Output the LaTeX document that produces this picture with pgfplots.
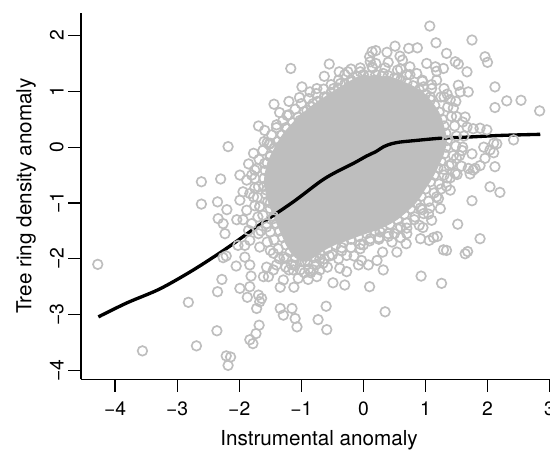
\documentclass[border=0pt]{standalone}
\usepackage{fontspec}
\setmainfont{TeX Gyre Heros}
\usepackage{pgfplots}
\usepackage{pgfplotstable}
\pgfplotsset{compat=1.18}
\definecolor{ptgray}{HTML}{BEBEBE}

% outline of the solid core of the cloud (points overlap completely inside it)
\pgfplotstableread{
x y
-0.2 1.2
-0.1 1.26
0.0 1.3
0.1 1.28
0.2 1.3
0.3 1.27
0.4 1.28
0.5 1.24
0.6 1.2
0.7 1.15
0.8 1.1
0.9 1.03
1.0 0.95
1.08 0.85
1.15 0.75
1.22 0.63
1.27 0.5
1.3 0.38
1.33 0.25
1.35 0.12
1.33 0.0
1.3 -0.12
1.25 -0.25
1.2 -0.37
1.14 -0.5
1.08 -0.62
1.0 -0.75
0.93 -0.88
0.85 -1.0
0.76 -1.1
0.66 -1.2
0.55 -1.3
0.43 -1.38
0.3 -1.45
0.18 -1.5
0.05 -1.55
-0.08 -1.6
-0.2 -1.65
-0.32 -1.7
-0.45 -1.75
-0.58 -1.82
-0.7 -1.9
-0.8 -1.98
-0.9 -2.05
-1.0 -2.05
-1.1 -1.98
-1.18 -1.88
-1.25 -1.75
-1.3 -1.62
-1.35 -1.5
-1.4 -1.37
-1.45 -1.24
-1.5 -1.1
-1.54 -0.97
-1.57 -0.84
-1.6 -0.7
-1.6 -0.56
-1.58 -0.42
-1.55 -0.28
-1.5 -0.15
-1.44 -0.02
-1.38 0.1
-1.31 0.22
-1.23 0.33
-1.14 0.44
-1.05 0.54
-0.95 0.64
-0.85 0.73
-0.74 0.82
-0.63 0.9
-0.52 0.98
-0.41 1.06
-0.3 1.13
}\coretable

\begin{document}
\begin{tikzpicture}
\begin{axis}[
  at={(0,0)}, anchor=south west,
  scale only axis, width=357pt, height=275pt,
  xmin=-4.55, xmax=3.12, ymin=-4.16, ymax=2.41,
  axis x line*=bottom, axis y line*=left,
  axis line style={line width=1pt, black},
  tick align=outside, major tick length=9.4pt,
  tick style={line width=1pt, black},
  xtick={-4,-3,-2,-1,0,1,2,3}, ytick={-4,-3,-2,-1,0,1,2},
  xticklabels={−4,−3,−2,−1,0,1,2,3},
  yticklabels={−4,−3,−2,−1,0,1,2},
  ticklabel style={font=\fontsize{14.5}{17}\selectfont},
  xticklabel style={anchor=north, inner sep=0pt, yshift=-7pt},
  yticklabel style={xshift=-3.4pt, rotate=90, anchor=south, inner sep=0pt},
  ptring/.style={only marks, mark=o, mark size=3.6pt, color=ptgray, line width=1.25pt},
]
\addplot[draw=none, fill=ptgray] table {\coretable};
\addplot[ptring] table {\coretable};
% points around the core
\addplot[ptring] coordinates {
(-0.25,1.35) (-0.05,1.42) (0.15,1.42) (0.35,1.42) (0.55,1.38) (0.75,1.3)
(0.95,1.18) (1.1,1.05) (1.25,0.9) (1.36,0.72) (1.42,0.55) (1.47,0.38) (1.5,0.2)
(1.49,0.02) (1.45,-0.15) (1.38,-0.33) (1.3,-0.5) (1.22,-0.66) (1.14,-0.82)
(1.05,-0.97) (0.95,-1.12) (0.83,-1.25) (0.7,-1.36) (0.55,-1.46) (0.4,-1.55)
(0.25,-1.62) (0.1,-1.68) (-0.05,-1.74) (-0.2,-1.8) (-0.35,-1.86) (-0.5,-1.93)
(-0.63,-2.0) (-0.76,-2.1) (-0.88,-2.18) (-1.02,-2.2) (-1.16,-2.1) (-1.28,-1.97)
(-1.37,-1.82) (-1.44,-1.66) (-1.5,-1.52) (-1.56,-1.37) (-1.62,-1.22) (-1.67,-1.06)
(-1.71,-0.9) (-1.75,-0.73) (-1.75,-0.56) (-1.72,-0.38) (-1.68,-0.22) (-1.62,-0.06)
(-1.55,0.08) (-1.48,0.22) (-1.4,0.35) (-1.3,0.47) (-1.2,0.58) (-1.1,0.68)
(-1.0,0.78) (-0.88,0.87) (-0.76,0.96) (-0.64,1.04) (-0.52,1.12) (-0.4,1.2)
};
% individual points
\addplot[ptring] coordinates {
(-4.28,-2.10) (-3.56,-3.65) (-2.82,-2.78) (-2.69,-3.56) (-2.61,-0.62) (-2.61,-1.02)
(-2.35,-0.98) (-2.20,-1.12) (-2.34,-1.28) (-2.26,-1.37) (-2.23,-1.55) (-2.04,-1.30)
(-1.94,-1.30) (-1.85,-1.49) (-2.02,-1.76) (-2.26,-1.98) (-2.21,-1.95) (-1.91,-1.97)
(-2.05,-2.13) (-1.83,-2.11) (-2.28,-2.37) (-2.35,-2.59) (-1.99,-2.53) (-1.83,-2.50)
(-1.87,-2.69) (-1.69,-2.65) (-1.67,-2.77) (-1.72,-2.89) (-1.64,-2.71) (-2.36,-3.29)
(-1.68,-3.19) (-1.73,-3.34) (-1.83,-3.45) (-1.78,-3.52) (-2.21,-3.74) (-2.14,-3.76)
(-2.18,-3.91) (-1.53,-2.32) (-1.40,-2.11) (-1.61,-2.32) (-1.50,-1.85) (-1.67,-1.79)
(-1.83,-1.67) (-1.69,-1.55) (-1.56,-1.43) (-1.45,-1.28) (-1.80,-1.37) (-1.88,-1.13)
(-1.67,-1.07) (-1.50,-1.00) (-1.99,-0.95) (-1.77,-0.89) (-1.91,-1.76) (-1.81,-2.31)
(-1.56,-2.15)
(-2.30,-0.57) (-1.99,-0.50) (-1.88,-0.59) (-1.94,-0.80) (-1.75,-0.41) (-1.59,-0.29)
(-1.50,-0.17) (-1.34,-0.23) (-1.69,-0.71) (-1.40,-0.47) (-1.29,-0.35) (-1.83,-0.83)
(-1.56,-0.77) (-1.45,-0.65) (-1.18,-0.11) (-1.07,0.01) (-1.13,0.25) (-0.97,0.30)
(-0.86,0.48) (-0.81,0.78) (-2.18,0.01) (-1.77,-0.11) (-1.50,0.07) (-1.34,0.01)
(-1.21,0.18) (-1.02,0.48) (-0.91,0.66) (-1.23,0.57) (-1.25,0.35) (-1.69,0.38)
(-1.59,0.30) (-1.52,0.05) (-1.17,1.41) (-0.99,1.08) (-1.03,0.89) (-1.44,0.77)
(-0.86,0.99)
(1.07,2.17) (1.17,1.87) (0.51,1.81) (0.73,1.77) (0.87,1.78) (0.14,1.71) (0.20,1.73)
(0.38,1.70) (0.59,1.63) (0.63,1.56) (-0.55,1.49) (-0.39,1.35) (-0.63,1.27) (-0.05,1.35)
(0.11,1.53) (0.14,1.44) (0.75,1.44) (0.86,1.32) (1.02,1.50) (1.16,1.44) (1.18,1.20)
(-0.19,1.17) (-0.48,1.05) (-0.59,0.90) (0.97,1.08) (1.08,0.90) (0.32,1.32) (0.54,1.23)
(-0.37,1.14) (-0.65,0.78) (0.10,1.62)
(1.75,1.92) (1.96,1.62) (2.00,1.52) (1.67,1.35) (1.48,1.53) (1.53,1.49) (1.34,1.68)
(2.12,1.08) (2.12,0.71) (2.31,0.83) (2.54,0.84) (2.84,0.65) (1.53,1.11) (1.69,0.99)
(1.56,0.99) (1.35,0.95) (1.49,0.82) (1.64,0.54) (1.67,0.36) (1.77,0.33) (1.88,0.34)
(1.99,0.31) (2.10,0.07) (2.42,0.13) (2.15,0.06) (2.04,-0.05) (2.12,-0.35) (1.88,-0.33)
(1.77,-0.41) (1.72,-0.48) (2.04,-0.71) (2.20,-0.81) (1.40,-0.77) (1.48,-0.47) (1.59,-0.06)
(1.75,-0.12) (1.94,0.00) (1.29,1.41) (1.18,1.36)
(0.35,-2.95) (-0.60,-2.85) (-0.59,-3.27) (-0.73,-3.09) (-1.07,-3.22) (-1.10,-3.07)
(-1.15,-2.89) (-1.29,-3.01) (-1.34,-2.89) (-1.12,-2.51) (-1.34,-2.51) (-0.89,-2.37)
(-0.75,-2.32) (-0.49,-2.43) (-0.30,-2.47) (0.10,-2.50) (-0.38,-2.17) (-0.27,-2.23)
(-0.08,-2.11) (-0.03,-2.03) (0.08,-2.11) (0.22,-2.03) (0.32,-2.20) (0.31,-1.88)
(0.46,-1.70) (0.54,-1.88) (0.11,-1.64) (0.27,-1.52) (-0.27,-1.94) (-0.05,-1.82)
(-1.13,-2.20) (-1.29,-2.38) (-1.24,-1.99) (-1.10,-2.12) (-0.94,-2.05) (-0.81,-2.20)
(-0.65,-2.08) (-0.58,-2.15)
(1.75,-0.96) (1.52,-1.38) (1.88,-1.64) (1.64,-1.91) (1.68,-1.87) (1.34,-1.85)
(1.29,-1.84) (1.26,-2.44) (0.93,-2.31) (1.06,-1.67) (1.13,-1.62) (1.19,-1.60)
(0.96,-1.44) (1.10,-1.31) (1.24,-1.10) (0.97,-1.19) (1.21,-0.92) (1.34,-0.70)
(1.80,-0.38) (1.69,-0.38) (1.96,-0.20) (2.10,-0.10) (1.58,-0.34) (1.40,-0.55)
(1.51,-0.49) (1.18,-0.89) (1.07,-1.09) (0.69,-1.73) (0.70,-1.45) (0.60,-1.62)
(0.60,-1.43) (0.92,-1.64) (0.92,-1.09)
(0.95,1.20) (1.10,1.12) (1.30,1.05) (1.40,0.85) (1.30,0.90) (1.45,0.70) (1.50,0.55)
(1.60,0.45) (1.62,0.20) (1.60,0.00) (1.55,-0.15) (1.42,-0.30) (1.50,-0.20)
(1.30,-0.40) (1.35,-0.55) (1.25,-0.75) (1.05,-1.20) (0.82,-1.30) (0.90,-1.40)
(0.70,-1.55) (0.50,-1.55) (0.40,-1.60) (0.25,-1.65) (0.00,-1.75) (-0.15,-1.95)
(-0.35,-1.80) (-0.55,-1.95) (-0.70,-2.00) (-0.40,-2.00) (-0.95,-2.25) (-1.05,-2.35)
(-0.85,-2.25) (-0.70,-2.20) (-1.20,-2.20) (-1.35,-2.00) (-1.45,-1.90) (-1.55,-1.70)
(-1.65,-1.50) (-1.70,-1.25) (-1.75,-1.05) (-1.45,-2.20) (-1.25,-2.15) (-1.80,-0.50)
(-1.85,-0.30) (-1.60,0.10) (-1.40,0.40) (-1.35,0.62) (-1.20,0.82) (-0.75,1.05)
(-0.30,1.30) (-0.20,1.40) (0.20,1.50) (0.40,1.52) (0.60,1.40) (0.70,1.30)
};
% smooth fit
\addplot[black, line width=2.5pt, smooth] coordinates {
(-4.27,-3.04) (-3.81,-2.79) (-3.28,-2.54) (-2.74,-2.20) (-2.20,-1.81) (-1.67,-1.39)
(-1.13,-0.98) (-0.70,-0.62) (-0.48,-0.47) (-0.16,-0.29) (0.05,-0.16) (0.20,-0.08)
(0.33,0.01) (0.45,0.06) (0.58,0.09) (0.80,0.115) (1.24,0.16) (1.67,0.18) (2.20,0.21)
(2.85,0.23)};
\end{axis}
\node[anchor=north, inner sep=0pt, font=\fontsize{15.5}{18}\selectfont]
  at (178.5pt,-38pt) {Instrumental anomaly};
\node[rotate=90, anchor=center, inner sep=0pt, font=\fontsize{15.5}{18}\selectfont]
  at (-41.25pt,137.5pt) {Tree ring density anomaly};
\pgfresetboundingbox
\path[use as bounding box] (-60.75pt,-53pt) rectangle (351.75pt,284.5pt);
\end{tikzpicture}
\end{document}
